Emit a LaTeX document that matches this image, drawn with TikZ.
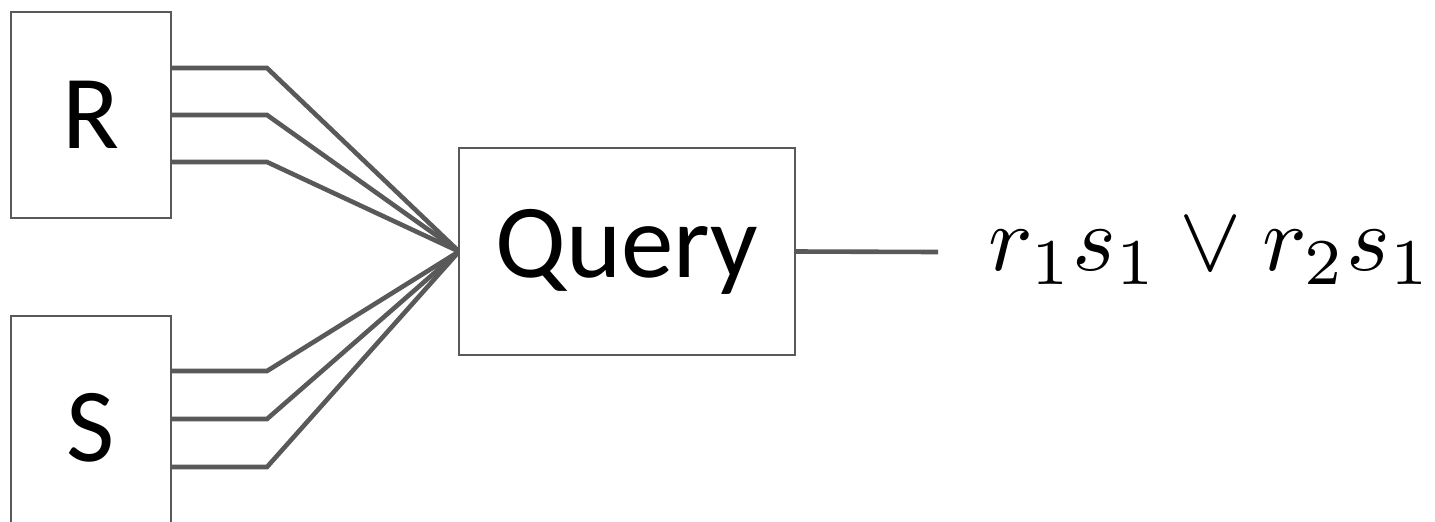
\documentclass[tikz,border=0pt]{standalone}
\usepackage{fontspec}
\setsansfont{Carlito}
\definecolor{wiregray}{HTML}{595959}
\begin{document}
\begin{tikzpicture}[x=0.5pt,y=-0.5pt,
  box/.style={draw=wiregray,line width=1pt,fill=white,inner sep=0pt},
  lbl/.style={font=\sffamily\fontsize{52.5}{60}\selectfont},
  wire/.style={draw=wiregray,line width=2.3pt,line join=miter}]
\useasboundingbox (0,0) rectangle (1435,521);
\coordinate (r1) at (171,68);  \coordinate (rb1) at (267,68);
\coordinate (r2) at (171,115); \coordinate (rb2) at (267,115);
\coordinate (r3) at (171,162); \coordinate (rb3) at (267,162);
\coordinate (s1) at (171,371); \coordinate (sb1) at (267,371);
\coordinate (s2) at (171,419); \coordinate (sb2) at (267,419);
\coordinate (s3) at (171,467); \coordinate (sb3) at (267,467);
\coordinate (out) at (938,252);
\coordinate (qin) at (459,251.5);
\foreach \i in {1,2,3}{
  \draw[wire] (r\i) -- (rb\i) -- (qin);
  \draw[wire] (s\i) -- (sb\i) -- (qin);
}
\node[box,lbl,minimum width=80pt,minimum height=103pt] (R) at (91,115) {R};
\node[box,minimum width=80pt,minimum height=122pt] (S) at (91,438) {};
\node[lbl] (Stext) at (91,428) {S};
\node[box,lbl,minimum width=168pt,minimum height=103.5pt] (Q) at (627,251.5) {Query};
\draw[wire] (Q.east) -- (out);
\node[anchor=base west,inner sep=0pt,font=\fontsize{10}{12}\selectfont,scale=4.67] (F) at (987,270) {$r_1s_1\vee r_2s_1$};
\end{tikzpicture}
\end{document}
